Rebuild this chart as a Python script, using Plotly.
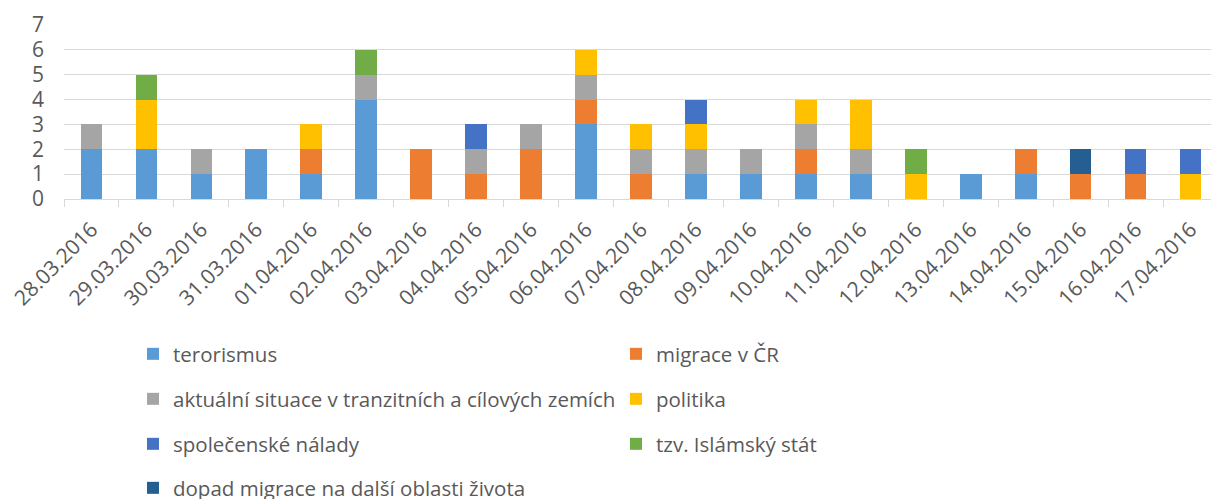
import plotly.graph_objects as go

dates = ["28.03.2016", "29.03.2016", "30.03.2016", "31.03.2016", "01.04.2016", "02.04.2016",
         "03.04.2016", "04.04.2016", "05.04.2016", "06.04.2016", "07.04.2016", "08.04.2016",
         "09.04.2016", "10.04.2016", "11.04.2016", "12.04.2016", "13.04.2016", "14.04.2016",
         "15.04.2016", "16.04.2016", "17.04.2016"]

terorismus = [2, 2, 1, 2, 1, 4, 0, 0, 0, 3, 0, 1, 1, 1, 1, 0, 1, 1, 0, 0, 0]
migrace_cr = [0, 0, 0, 0, 1, 0, 2, 1, 2, 1, 1, 0, 0, 1, 0, 0, 0, 1, 1, 1, 0]
aktualni = [1, 0, 1, 0, 0, 1, 0, 1, 1, 1, 1, 1, 1, 1, 1, 0, 0, 0, 0, 0, 0]
politika = [0, 2, 0, 0, 1, 0, 0, 0, 0, 1, 1, 1, 0, 1, 2, 1, 0, 0, 0, 0, 1]
spolecenske = [0, 0, 0, 0, 0, 0, 0, 1, 0, 0, 0, 1, 0, 0, 0, 0, 0, 0, 0, 1, 1]
islamsky_stat = [0, 1, 0, 0, 0, 1, 0, 0, 0, 0, 0, 0, 0, 0, 0, 1, 0, 0, 0, 0, 0]
dopad = [0, 0, 0, 0, 0, 0, 0, 0, 0, 0, 0, 0, 0, 0, 0, 0, 0, 0, 1, 0, 0]

series = [
    ("terorismus", terorismus, "#5B9BD5", "legend"),
    ("migrace v ČR", migrace_cr, "#ED7D31", "legend"),
    ("aktuální situace v tranzitních a cílových zemích", aktualni, "#A5A5A5", "legend2"),
    ("politika", politika, "#FFC000", "legend2"),
    ("společenské nálady", spolecenske, "#4472C4", "legend3"),
    ("tzv. Islámský stát", islamsky_stat, "#70AD47", "legend3"),
    ("dopad migrace na další oblasti života", dopad, "#255E91", "legend4"),
]

FONT = "Open Sans"
TXT = "#595959"
W, H = 1211, 491  # page body adds an 8px offset

fig = go.Figure()
for name, vals, color, leg in series:
    fig.add_trace(go.Bar(
        x=dates, y=vals, name=name, marker=dict(color=color, line=dict(width=0)),
        legend=leg,
    ))

row_centers = [353, 398, 443, 487]
legend_common = dict(
    orientation="h", xref="container", yref="container", xanchor="left", yanchor="top",
    entrywidth=438, entrywidthmode="pixels", traceorder="normal",
    font=dict(family=FONT, size=20.5, color=TXT), bgcolor="rgba(0,0,0,0)",
)
legends = {}
for i, key in enumerate(["legend", "legend2", "legend3", "legend4"]):
    legends[key] = dict(legend_common, x=(133 - 8) / W, y=1 - (row_centers[i] - 8 - 19) / H)

fig.update_layout(
    width=W, height=H,
    barmode="stack", bargap=0.605,
    margin=dict(l=56, r=1, t=17, b=300, autoexpand=False),
    paper_bgcolor="white", plot_bgcolor="white",
    font=dict(family=FONT, color=TXT),
    showlegend=True,
    **legends,
)
fig.update_xaxes(
    type="category", tickangle=-45, tickfont=dict(size=21, color=TXT),
    showline=True, linecolor="#D9D9D9", linewidth=1,
    ticks="outside", tickson="boundaries", ticklen=7, tickcolor="#D9D9D9",
    showgrid=False, automargin=False, ticklabelstandoff=9,
)
fig.update_yaxes(
    range=[0, 7], dtick=1, tickfont=dict(size=21, color=TXT),
    showgrid=True, gridcolor="#D9D9D9", gridwidth=1, zeroline=False,
    showline=False, ticklabelstandoff=19, automargin=False,
)

fig.write_html("out.html")
